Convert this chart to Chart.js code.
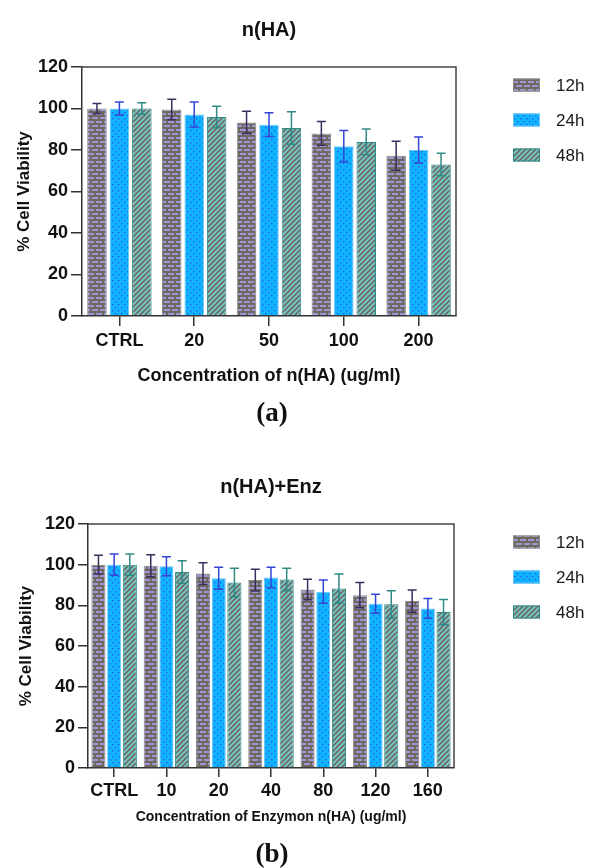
<!DOCTYPE html>
<html>
<head>
<meta charset="utf-8">
<script src="https://cdn.jsdelivr.net/npm/chart.js@4.4.1/dist/chart.umd.min.js"></script>
<style>
  html, body { margin: 0; padding: 0; background: #fff; }
  body { width: 590px; height: 868px; position: relative; overflow: hidden; }
  .box { position: absolute; left: 0; width: 590px; height: 434px; }
  .cap { position: absolute; left: 0; width: 544px; text-align: center; line-height: 30px;
         font-family: "Liberation Serif", "Times New Roman", serif; font-weight: bold; font-size: 27px; color: #111; }
</style>
</head>
<body>
<div class="box" style="top:0"><canvas id="chartA" width="590" height="434"></canvas></div>
<div class="box" style="top:434px"><canvas id="chartB" width="590" height="434"></canvas></div>
<div class="cap" style="top:397px">(a)</div>
<div class="cap" style="top:838px">(b)</div>
<script>
// chart (a) - n(HA)
var catsA = ["CTRL", "20", "50", "100", "200"];
var a12 = [100, 99.5, 93.3, 88.0, 77.2];
var a24 = [100, 97.1, 92.2, 81.8, 80.0];
var a48 = [100, 95.9, 90.6, 83.9, 73.0];
var a12err = [2.4, 4.9, 5.4, 5.7, 7.0];
var a24err = [3.1, 6.0, 5.7, 7.6, 6.3];
var a48err = [2.8, 5.2, 7.8, 6.2, 5.4];

// chart (b) - n(HA)+Enz
var catsB = ["CTRL", "10", "20", "40", "80", "120", "160"];
var b12 = [100, 99.5, 95.6, 92.4, 87.8, 85.0, 82.1];
var b24 = [100, 99.2, 93.3, 93.7, 86.7, 80.8, 78.5];
var b48 = [100, 96.4, 91.2, 92.7, 88.3, 80.5, 76.7];
var b12err = [4.6, 5.4, 5.4, 5.3, 5.0, 6.2, 5.5];
var b24err = [5.2, 4.7, 5.4, 5.0, 5.7, 4.7, 4.9];
var b48err = [5.2, 5.5, 7.0, 5.5, 7.1, 6.7, 6.2];

var yTicks = [0, 20, 40, 60, 80, 100, 120];
var seriesNames = ["12h", "24h", "48h"];

var FONT = "'Liberation Sans', Arial, sans-serif";

function makePattern(kind) {
  var c = document.createElement('canvas');
  var g = c.getContext('2d');
  if (kind === 'brick') {
    c.width = 8; c.height = 8;
    g.fillStyle = '#6c6a5c'; g.fillRect(0, 0, 8, 8);
    g.fillStyle = '#a093d8';
    g.fillRect(0, 1, 6, 2);
    g.fillRect(4, 5, 6, 2);
    g.fillRect(-4, 5, 6, 2);
  } else if (kind === 'dots') {
    c.width = 6; c.height = 6;
    g.fillStyle = '#0fb4ff'; g.fillRect(0, 0, 6, 6);
    g.fillStyle = '#2f5fe8';
    g.fillRect(1, 1, 1.4, 1.4);
    g.fillRect(4, 4, 1.4, 1.4);
  } else {
    var s = 5;
    c.width = s; c.height = s;
    g.fillStyle = '#74c6c0'; g.fillRect(0, 0, s, s);
    g.strokeStyle = '#6e5e5e'; g.lineWidth = 1.5;
    g.beginPath();
    g.moveTo(0, s); g.lineTo(s, 0);
    g.moveTo(-1, 1); g.lineTo(1, -1);
    g.moveTo(s - 1, s + 1); g.lineTo(s + 1, s - 1);
    g.stroke();
  }
  return g.createPattern(c, 'repeat');
}

var fills = [makePattern('brick'), makePattern('dots'), makePattern('hatch')];
var borders = ['#8a8a8a', '#6cc8f5', '#2f8a86'];
var errColors = ['#3b2e5e', '#3344d6', '#2f8a86'];

// top + right frame of the plot
var framePlugin = {
  id: 'frame',
  afterDraw: function (chart) {
    var a = chart.chartArea, ctx = chart.ctx;
    ctx.save();
    ctx.strokeStyle = '#444';
    ctx.lineWidth = 1.5;
    ctx.beginPath();
    ctx.moveTo(a.left, a.top);
    ctx.lineTo(a.right, a.top);
    ctx.lineTo(a.right, a.bottom);
    ctx.stroke();
    ctx.restore();
  }
};

// error bars, through the y scale
var errorBarPlugin = {
  id: 'errorBars',
  afterDatasetsDraw: function (chart) {
    var ctx = chart.ctx, ys = chart.scales.y;
    chart.data.datasets.forEach(function (ds, i) {
      var meta = chart.getDatasetMeta(i);
      ctx.save();
      ctx.strokeStyle = ds.errColor;
      ctx.lineWidth = 1.5;
      meta.data.forEach(function (bar, j) {
        var v = ds.data[j], e = ds.errors[j];
        var top = ys.getPixelForValue(v + e), bot = ys.getPixelForValue(v - e);
        var w = Math.min(4.5, bar.width / 2 - 1);
        ctx.beginPath();
        ctx.moveTo(bar.x, top); ctx.lineTo(bar.x, bot);
        ctx.moveTo(bar.x - w, top); ctx.lineTo(bar.x + w, top);
        ctx.moveTo(bar.x - w, bot); ctx.lineTo(bar.x + w, bot);
        ctx.stroke();
      });
      ctx.restore();
    });
  }
};

// legend on the right with pattern swatches
var legendPlugin = {
  id: 'patternLegend',
  afterDraw: function (chart) {
    var ctx = chart.ctx, a = chart.chartArea;
    ctx.save();
    chart.data.datasets.forEach(function (ds, i) {
      var cy = a.top + 18 + i * 35;
      ctx.fillStyle = ds.backgroundColor;
      ctx.fillRect(513, cy - 6.5, 27, 13);
      ctx.strokeStyle = ds.borderColor;
      ctx.lineWidth = 1;
      ctx.strokeRect(513.5, cy - 6, 26, 12);
      ctx.fillStyle = '#1a1a1a';
      ctx.font = '17px ' + FONT;
      ctx.textBaseline = 'middle';
      ctx.fillText(ds.label, 556, cy + 1);
    });
    ctx.restore();
  }
};

function buildChart(id, p) {
  var datasets = [p.d12, p.d24, p.d48].map(function (d, i) {
    return {
      label: seriesNames[i],
      data: d,
      errors: p.errs[i],
      errColor: errColors[i],
      backgroundColor: fills[i],
      borderColor: borders[i],
      borderWidth: 1
    };
  });
  return new Chart(document.getElementById(id), {
    type: 'bar',
    data: { labels: p.labels, datasets: datasets },
    options: {
      responsive: false,
      animation: false,
      layout: { padding: { left: 0, right: 590 - p.right, top: 0, bottom: 0 } },
      datasets: { bar: { categoryPercentage: p.cp, barPercentage: p.bp } },
      plugins: {
        legend: { display: false },
        tooltip: { enabled: false },
        title: {
          display: true, text: p.title, fullSize: false, color: '#111',
          font: { family: FONT, size: 20, weight: 'bold' },
          padding: { top: p.titleTop, bottom: p.titleBottom }
        }
      },
      scales: {
        x: {
          grid: { drawOnChartArea: false, offset: false, tickLength: p.xTick, color: '#333', lineWidth: 1.5 },
          border: { color: '#333', width: 1.5 },
          ticks: {
            color: '#111', padding: p.xPad, autoSkip: false, maxRotation: 0, minRotation: 0,
            font: { family: FONT, size: p.xTickSize, weight: 'bold' }
          },
          title: {
            display: true, text: p.xTitle, color: '#111',
            font: { family: FONT, size: p.xTitleSize, weight: 'bold' },
            padding: { top: 0, bottom: p.xTitleBottom }
          },
          afterFit: function (s) { s.height = p.xHeight; }
        },
        y: {
          min: 0, max: 120,
          afterBuildTicks: function (s) { s.ticks = yTicks.map(function (v) { return { value: v }; }); },
          grid: { drawOnChartArea: false, tickLength: p.yTick, color: '#333', lineWidth: 1.5 },
          border: { color: '#333', width: 1.5 },
          ticks: { color: '#111', padding: 3, font: { family: FONT, size: 18, weight: 'bold' } },
          title: {
            display: true, text: '% Cell Viability', color: '#111',
            font: { family: FONT, size: 17, weight: 'bold' },
            padding: { top: p.yTitleTop, bottom: 0 }
          },
          afterFit: function (s) { s.width = p.left; }
        }
      }
    },
    plugins: [framePlugin, errorBarPlugin, legendPlugin]
  });
}

buildChart('chartA', {
  labels: catsA, d12: a12, d24: a24, d48: a48, errs: [a12err, a24err, a48err],
  title: 'n(HA)', titleTop: 18, titleBottom: 25,
  xTitle: 'Concentration of n(HA) (ug/ml)', xTitleSize: 18, xTitleBottom: 47,
  xHeight: 118, xTick: 10, xPad: 4, xTickSize: 18,
  left: 82, right: 456, yTick: 11, yTitleTop: 14,
  cp: 0.9, bp: 0.87
});

buildChart('chartB', {
  labels: catsB, d12: b12, d24: b24, d48: b48, errs: [b12err, b24err, b48err],
  title: 'n(HA)+Enz', titleTop: 41, titleBottom: 25,
  xTitle: 'Concentration of Enzymon n(HA) (ug/ml)', xTitleSize: 14, xTitleBottom: 42,
  xHeight: 100, xTick: 9, xPad: 3, xTickSize: 18,
  left: 88, right: 454, yTick: 10, yTitleTop: 16,
  cp: 0.9, bp: 0.9
});
</script>
</body>
</html>
